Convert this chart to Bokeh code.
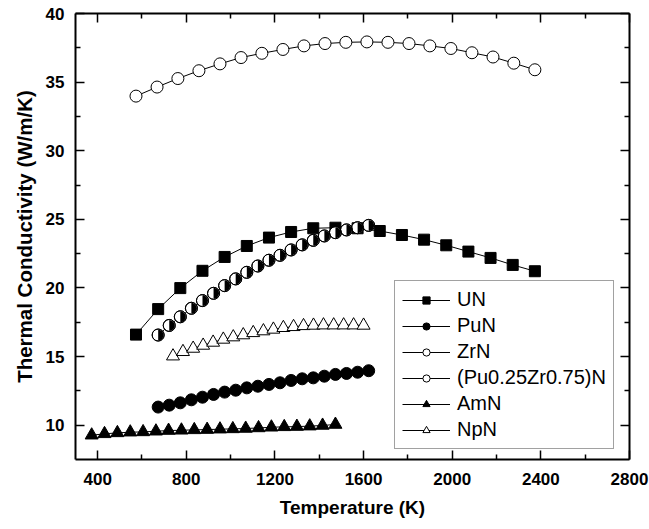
import numpy as np
from bokeh.plotting import figure
from bokeh.models import LinearAxis, FixedTicker, Range1d, Legend, LegendItem, ColumnDataSource
from bokeh.embed import file_html
from bokeh.resources import INLINE

# ---------------- data ----------------
un_T = [573, 673, 773, 873, 973, 1073, 1173, 1273, 1373, 1473, 1573, 1673, 1773, 1873,
        1973, 2073, 2173, 2273, 2373]
un_k = [16.6, 18.46, 19.99, 21.25, 22.26, 23.06, 23.67, 24.08, 24.35, 24.39, 24.35, 24.15,
        23.86, 23.52, 23.11, 22.65, 22.19, 21.68, 21.22]

pun_T = [673, 723, 773, 823, 873, 923, 973, 1023, 1073, 1123, 1173, 1223, 1273, 1323,
         1373, 1423, 1473, 1523, 1573, 1623]
pun_k = [11.32, 11.46, 11.63, 11.85, 12.04, 12.24, 12.41, 12.55, 12.72, 12.84, 12.97, 13.09,
         13.26, 13.38, 13.45, 13.57, 13.70, 13.77, 13.86, 13.97]

zrn_T = [573, 668, 762, 857, 952, 1047, 1141, 1236, 1331, 1426, 1520, 1615, 1710, 1805,
         1899, 1994, 2089, 2184, 2278, 2373]
zrn_k = [33.98, 34.64, 35.26, 35.83, 36.33, 36.79, 37.10, 37.38, 37.64, 37.81, 37.90, 37.93,
         37.90, 37.81, 37.64, 37.45, 37.14, 36.83, 36.38, 35.90]

mix_T = [673, 723, 773, 823, 873, 923, 973, 1023, 1073, 1123, 1173, 1223, 1273, 1323,
         1373, 1423, 1473, 1523, 1573, 1623]
mix_k = [16.57, 17.27, 17.90, 18.52, 19.08, 19.61, 20.17, 20.66, 21.14, 21.60, 22.02, 22.38,
         22.77, 23.14, 23.47, 23.79, 24.03, 24.23, 24.39, 24.56]

amn_T = [373, 431, 489, 547, 605, 663, 720, 778, 836, 894, 952, 1010, 1068, 1126, 1184,
         1242, 1299, 1357, 1415, 1473]
amn_k = [9.27, 9.37, 9.44, 9.49, 9.51, 9.56, 9.61, 9.63, 9.66, 9.68, 9.71, 9.73, 9.76, 9.80,
         9.85, 9.88, 9.90, 9.93, 9.98, 10.05]

npn_T = [740, 785, 831, 876, 921, 967, 1012, 1057, 1102, 1148, 1193, 1238, 1284, 1329,
         1374, 1419, 1465, 1510, 1555, 1600]
npn_k = [15.03, 15.35, 15.59, 15.81, 16.03, 16.25, 16.42, 16.57, 16.73, 16.86, 16.98, 17.10,
         17.17, 17.24, 17.27, 17.29, 17.29, 17.29, 17.29, 17.27]

labels = ["UN", "PuN", "ZrN", "(Pu0.25Zr0.75)N", "AmN", "NpN"]
x_major = [400, 800, 1200, 1600, 2000, 2400, 2800]
x_minor = [600, 1000, 1400, 1800, 2200, 2600]
y_major = [10, 15, 20, 25, 30, 35, 40]
y_minor = [12.5, 17.5, 22.5, 27.5, 32.5, 37.5]

FONT = "Liberation Sans"

p = figure(width=649, height=529, x_range=Range1d(300, 2800), y_range=Range1d(7.5, 40),
           output_backend="svg", toolbar_location=None,
           min_border_left=75, min_border_right=20, min_border_top=13, min_border_bottom=70)
p.background_fill_color = "white"
p.border_fill_color = "white"
p.outline_line_color = None
p.xgrid.visible = False
p.ygrid.visible = False

xt = FixedTicker(ticks=x_major, minor_ticks=x_minor)
yt = FixedTicker(ticks=y_major, minor_ticks=y_minor)


def style_axis(ax, ticker):
    ax.ticker = ticker
    ax.axis_line_width = 2
    ax.axis_line_color = "black"
    ax.major_tick_in = 9
    ax.major_tick_out = 0
    ax.minor_tick_in = 5
    ax.minor_tick_out = 0
    ax.major_tick_line_width = 1.5
    ax.minor_tick_line_width = 1.5
    ax.major_tick_line_color = "black"
    ax.minor_tick_line_color = "black"
    ax.major_label_text_font = FONT
    ax.major_label_text_font_style = "bold"
    ax.major_label_text_font_size = "17px"
    ax.major_label_text_color = "black"
    ax.axis_label_text_font = FONT
    ax.axis_label_text_font_style = "bold"
    ax.axis_label_text_font_size = "19px"
    ax.axis_label_text_color = "black"


xa = p.xaxis[0]
ya = p.yaxis[0]
style_axis(xa, xt)
style_axis(ya, yt)
xa.axis_label = "Temperature (K)"
ya.axis_label = "Thermal Conductivity (W/m/K)"
ya.axis_label_text_font_size = "20.5px"
xa.major_label_standoff = 13
xa.axis_label_standoff = 9
ya.major_label_standoff = 11
ya.axis_label_standoff = 7

# mirrored axes (ticks only) on top and right
top = LinearAxis()
right = LinearAxis()
for ax, t, ticks in ((top, xt, x_major), (right, yt, y_major)):
    style_axis(ax, t)
    ax.major_label_overrides = {v: "" for v in ticks}
    ax.major_label_standoff = 0
    ax.axis_label = None
p.add_layout(top, "above")
p.add_layout(right, "right")

# ---------------- series ----------------
LW = 1
src_un = ColumnDataSource(dict(x=un_T, y=un_k))
src_pun = ColumnDataSource(dict(x=pun_T, y=pun_k))
src_zrn = ColumnDataSource(dict(x=zrn_T, y=zrn_k))
src_mix = ColumnDataSource(dict(x=mix_T, y=mix_k))
src_amn = ColumnDataSource(dict(x=amn_T, y=amn_k))
src_npn = ColumnDataSource(dict(x=npn_T, y=npn_k))

items = []

l = p.line("x", "y", source=src_un, line_color="black", line_width=LW)
s = p.scatter("x", "y", source=src_un, marker="square", size=11, fill_color="black", line_color="black")
items.append(LegendItem(label=labels[0], renderers=[l, s]))

l = p.line("x", "y", source=src_pun, line_color="black", line_width=LW)
s = p.scatter("x", "y", source=src_pun, marker="circle", size=12, fill_color="black", line_color="black")
items.append(LegendItem(label=labels[1], renderers=[l, s]))

l = p.line("x", "y", source=src_zrn, line_color="black", line_width=LW)
s = p.scatter("x", "y", source=src_zrn, marker="circle", size=12, fill_color="white", line_color="black", line_width=1)
items.append(LegendItem(label=labels[2], renderers=[l, s]))

l = p.line("x", "y", source=src_mix, line_color="black", line_width=LW)
s = p.scatter("x", "y", source=src_mix, marker="circle", size=12, fill_color="white", line_color="black", line_width=1)
w = p.wedge("x", "y", source=src_mix, radius=5.5, radius_units="screen",
            start_angle=-np.pi / 2, end_angle=np.pi / 2, fill_color="black", line_color=None)
o = p.scatter("x", "y", source=src_mix, marker="circle", size=12, fill_color=None, line_color="black", line_width=1)
items.append(LegendItem(label=labels[3], renderers=[l, s]))

l = p.line("x", "y", source=src_amn, line_color="black", line_width=LW)
s = p.scatter("x", "y", source=src_amn, marker="triangle", size=13, fill_color="black", line_color="black")
items.append(LegendItem(label=labels[4], renderers=[l, s]))

l = p.line("x", "y", source=src_npn, line_color="black", line_width=LW)
s = p.scatter("x", "y", source=src_npn, marker="triangle", size=13, fill_color="white", line_color="black", line_width=1)
items.append(LegendItem(label=labels[5], renderers=[l, s]))

legend = Legend(items=items, location=(319, 10))
legend.label_text_font = FONT
legend.label_text_font_size = "20px"
legend.label_text_color = "black"
legend.glyph_width = 48
legend.glyph_height = 18
legend.label_height = 18
legend.label_standoff = 7
legend.spacing = 3
legend.padding = 7
legend.margin = 0
legend.border_line_color = "#444444"
legend.border_line_width = 1
legend.background_fill_color = "white"
legend.background_fill_alpha = 1
p.add_layout(legend, "center")

open("out.html", "w").write(file_html(p, INLINE))
